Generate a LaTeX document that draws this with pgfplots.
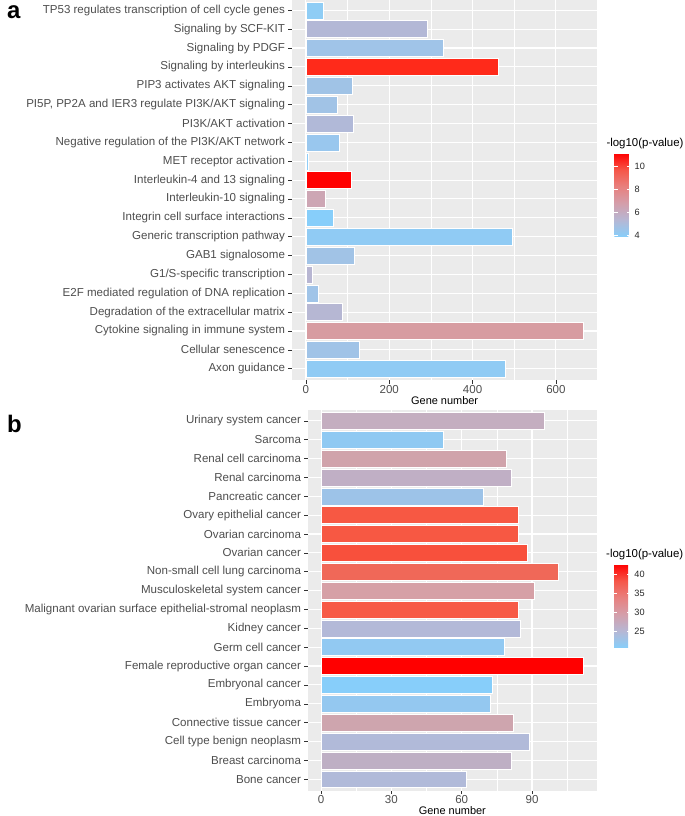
\documentclass[border=0pt]{standalone}
\usepackage{fontspec}
\setmainfont{Liberation Sans}
\usepackage{pgfplots}
\pgfplotsset{compat=1.18}
\usetikzlibrary{calc}

\definecolor{panelbg}{HTML}{EBEBEB}
\definecolor{gtext}{HTML}{4D4D4D}
\definecolor{gtick}{HTML}{333333}
% panel a bar colours
\definecolor{a0}{HTML}{8FCDF5}
\definecolor{a1}{HTML}{B3B8D6}
\definecolor{a2}{HTML}{A0C4E8}
\definecolor{a3}{HTML}{FF2A1A}
\definecolor{a4}{HTML}{A0C3E6}
\definecolor{a5}{HTML}{A1C3E6}
\definecolor{a6}{HTML}{B1B9D8}
\definecolor{a7}{HTML}{99C7EE}
\definecolor{a8}{HTML}{8ECDF8}
\definecolor{a9}{HTML}{FF0000}
\definecolor{a10}{HTML}{CDA6B4}
\definecolor{a11}{HTML}{87CEFA}
\definecolor{a12}{HTML}{90CBF4}
\definecolor{a13}{HTML}{A1C3E6}
\definecolor{a14}{HTML}{B8B6D2}
\definecolor{a15}{HTML}{A0C4E8}
\definecolor{a16}{HTML}{B6B7D3}
\definecolor{a17}{HTML}{D79CA1}
\definecolor{a18}{HTML}{A0C3E7}
\definecolor{a19}{HTML}{90CBF4}
% panel b bar colours
\definecolor{b0}{HTML}{C4AEC0}
\definecolor{b1}{HTML}{8FC9F2}
\definecolor{b2}{HTML}{D0A3AB}
\definecolor{b3}{HTML}{C0AFC5}
\definecolor{b4}{HTML}{9DC3E8}
\definecolor{b5}{HTML}{F75843}
\definecolor{b6}{HTML}{F75843}
\definecolor{b7}{HTML}{F8503C}
\definecolor{b8}{HTML}{F06858}
\definecolor{b9}{HTML}{D6A0A6}
\definecolor{b10}{HTML}{F75A46}
\definecolor{b11}{HTML}{B3B9D8}
\definecolor{b12}{HTML}{92C9F2}
\definecolor{b13}{HTML}{FF0000}
\definecolor{b14}{HTML}{87CEFA}
\definecolor{b15}{HTML}{94C8F0}
\definecolor{b16}{HTML}{CEA5AE}
\definecolor{b17}{HTML}{B1BAD9}
\definecolor{b18}{HTML}{BEAFC4}
\definecolor{b19}{HTML}{B1BAD9}

\pgfplotsset{
  ggbar/.style={
    scale only axis,
    y dir=reverse,
    ymin=-0.6, ymax=19.6,
    ytick={0,...,19},
    axis background/.style={fill=panelbg},
    axis line style={draw=none},
    grid=major,
    major grid style={white, line width=1.1bp},
    minor grid style={white, line width=0.5bp},
    xminorgrids=true,
    minor tick length=0pt,
    tick align=outside,
    major tick length=3.5bp,
    tick style={gtick, line width=0.5bp},
    xtick pos=bottom, ytick pos=left,
    yticklabel style={font=\fontsize{11.6}{12}\selectfont, text=gtext},
    xticklabel style={font=\fontsize{11.6}{12}\selectfont, text=gtext, yshift=2bp},
    /pgf/number format/assume math mode=true,
    scaled ticks=false,
    xlabel={Gene number},
    xlabel style={at={(axis description cs:0.5,0)}, anchor=center, yshift=-20.5bp,
      font=\fontsize{11}{12}\selectfont, text=black},
    every axis plot/.append style={xbar, bar width=0.9, bar shift=0pt,
      draw=white, line width=0.4bp},
    colormap={pv}{rgb255(0cm)=(135,206,250) rgb255(1cm)=(182,183,212)
      rgb255(2cm)=(212,158,170) rgb255(3cm)=(232,128,126) rgb255(4cm)=(246,86,72)
      rgb255(5cm)=(255,0,0)},
    colorbar right,
    colorbar shift/.style={xshift=0pt},
    every colorbar/.append style={
      anchor=north west,
      scale only axis,
      width=16.4bp, height=83.7bp,
      axis line style={draw=none},
      tick align=inside,
      ytick pos=both,
      yticklabel pos=right,
      major tick length=3.3bp,
      tick style={white, line width=0.6bp},
      yticklabel style={font=\fontsize{9.2}{9}\selectfont, text=black!85, xshift=0.5bp},
      /pgf/number format/assume math mode=true,
      title={-log10(p-value)},
      title style={at={(0,1)}, anchor=base west, xshift=-8bp, yshift=0.7bp,
        font=\fontsize{11.5}{12}\selectfont, inner sep=0pt},
    },
  },
}

\begin{document}
\begin{tikzpicture}
\path[use as bounding box] (0,0) rectangle (685bp,-816bp);

\node[anchor=base west, inner sep=0pt, font=\fontsize{24}{24}\selectfont\bfseries] at (7bp,-18.5bp) {a};
\node[anchor=base west, inner sep=0pt, font=\fontsize{24}{24}\selectfont\bfseries] at (7bp,-432bp) {b};

% panel a
\begin{axis}[ggbar,
  at={(292bp,1bp)}, anchor=north west,
  width=305.3bp, height=381bp,
  xmin=-33.3, xmax=699.3,
  xtick={0,200,400,600},
  minor xtick={100,300,500},
  point meta min=3.85, point meta max=11.2,
  colorbar style={at={($(parent axis.north east)+(17bp,-154bp)$)}, ytick={4,6,8,10}},
  yticklabels={
    TP53 regulates transcription of cell cycle genes,
    Signaling by SCF-KIT,
    Signaling by PDGF,
    Signaling by interleukins,
    PIP3 activates AKT signaling,
    {PI5P, PP2A and IER3 regulate PI3K/AKT signaling},
    PI3K/AKT activation,
    Negative regulation of the PI3K/AKT network,
    MET receptor activation,
    Interleukin-4 and 13 signaling,
    Interleukin-10 signaling,
    Integrin cell surface interactions,
    Generic transcription pathway,
    GAB1 signalosome,
    G1/S-specific transcription,
    E2F mediated regulation of DNA replication,
    Degradation of the extracellular matrix,
    Cytokine signaling in immune system,
    Cellular senescence,
    Axon guidance},
]
\addplot[fill=a0] coordinates {(41,0)};
\addplot[fill=a1] coordinates {(291,1)};
\addplot[fill=a2] coordinates {(329,2)};
\addplot[fill=a3] coordinates {(461,3)};
\addplot[fill=a4] coordinates {(111,4)};
\addplot[fill=a5] coordinates {(75,5)};
\addplot[fill=a6] coordinates {(114,6)};
\addplot[fill=a7] coordinates {(80,7)};
\addplot[fill=a8] coordinates {(6,8)};
\addplot[fill=a9] coordinates {(109,9)};
\addplot[fill=a10] coordinates {(47,10)};
\addplot[fill=a11] coordinates {(66,11)};
\addplot[fill=a12] coordinates {(495,12)};
\addplot[fill=a13] coordinates {(115,13)};
\addplot[fill=a14] coordinates {(16,14)};
\addplot[fill=a15] coordinates {(29,15)};
\addplot[fill=a16] coordinates {(88,16)};
\addplot[fill=a17] coordinates {(666,17)};
\addplot[fill=a18] coordinates {(127,18)};
\addplot[fill=a19] coordinates {(478,19)};
\end{axis}

% panel b
\begin{axis}[ggbar,
  at={(308bp,-409.5bp)}, anchor=north west,
  width=288.7bp, height=381bp,
  xmin=-5.6, xmax=117.6,
  xtick={0,30,60,90},
  minor xtick={15,45,75,105},
  point meta min=20.65, point meta max=42.6,
  colorbar style={at={($(parent axis.north east)+(17.3bp,-154.5bp)$)}, ytick={25,30,35,40}},
  yticklabels={
    Urinary system cancer,
    Sarcoma,
    Renal cell carcinoma,
    Renal carcinoma,
    Pancreatic cancer,
    Ovary epithelial cancer,
    Ovarian carcinoma,
    Ovarian cancer,
    Non-small cell lung carcinoma,
    Musculoskeletal system cancer,
    Malignant ovarian surface epithelial-stromal neoplasm,
    Kidney cancer,
    Germ cell cancer,
    Female reproductive organ cancer,
    Embryonal cancer,
    Embryoma,
    Connective tissue cancer,
    Cell type benign neoplasm,
    Breast carcinoma,
    Bone cancer},
]
\addplot[fill=b0] coordinates {(95,0)};
\addplot[fill=b1] coordinates {(52,1)};
\addplot[fill=b2] coordinates {(79,2)};
\addplot[fill=b3] coordinates {(81,3)};
\addplot[fill=b4] coordinates {(69,4)};
\addplot[fill=b5] coordinates {(84,5)};
\addplot[fill=b6] coordinates {(84,6)};
\addplot[fill=b7] coordinates {(88,7)};
\addplot[fill=b8] coordinates {(101,8)};
\addplot[fill=b9] coordinates {(91,9)};
\addplot[fill=b10] coordinates {(84,10)};
\addplot[fill=b11] coordinates {(85,11)};
\addplot[fill=b12] coordinates {(78,12)};
\addplot[fill=b13] coordinates {(112,13)};
\addplot[fill=b14] coordinates {(73,14)};
\addplot[fill=b15] coordinates {(72,15)};
\addplot[fill=b16] coordinates {(82,16)};
\addplot[fill=b17] coordinates {(89,17)};
\addplot[fill=b18] coordinates {(81,18)};
\addplot[fill=b19] coordinates {(62,19)};
\end{axis}
\end{tikzpicture}
\end{document}
